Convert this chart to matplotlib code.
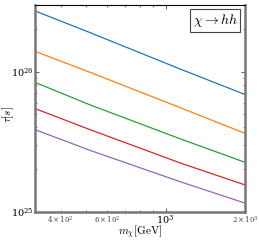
import numpy as np
import matplotlib
matplotlib.use("Agg")
import matplotlib.pyplot as plt

plt.rcParams['mathtext.fontset'] = 'cm'
plt.rcParams['font.family'] = ['DejaVu Serif']

# data
mass = [319, 517, 1141, 2000]  # GeV
tau_blue = [2.72e26, 1.90e26, 1.04e26, 6.86e25]
tau_orange = [1.40e26, 9.89e25, 5.51e25, 3.62e25]
tau_green = [8.40e25, 5.79e25, 3.30e25, 2.25e25]
tau_red = [5.46e25, 3.85e25, 2.22e25, 1.55e25]
tau_purple = [3.86e25, 2.74e25, 1.63e25, 1.15e25]
series = [tau_blue, tau_orange, tau_green, tau_red, tau_purple]
colors = ['#1f77b4', '#ff7f0e', '#2ca02c', '#d62728', '#9467bd']

fig = plt.figure(figsize=(2.59, 2.41), dpi=100)
ax = fig.add_axes([0.135, 0.122, 0.811, 0.858])
for s, c in zip(series, colors):
    ax.plot(mass, s, color=c, lw=0.9)
ax.set_xscale('log')
ax.set_yscale('log')
ax.set_xlim(320, 2000)
ax.set_ylim(1e25, 3e26)

for side in ['left', 'bottom', 'right']:
    ax.spines[side].set_color('#777777')
    ax.spines[side].set_linewidth(1.8)
ax.spines['top'].set_color('black')
ax.spines['top'].set_linewidth(0.8)

ax.tick_params(which='both', direction='in', top=True, right=True, color='#444444')
ax.tick_params(which='major', length=3, width=0.6, labelsize=7, pad=1)
ax.tick_params(which='minor', length=1.5, width=0.5, labelsize=5, pad=2, labelcolor='#444444')

ax.set_xlabel(r'$m_\chi[\mathrm{GeV}]$', fontsize=8)
ax.set_ylabel(r'$\tau[s]$', fontsize=8)
ax.xaxis.set_label_coords(0.5, -0.057)
ax.yaxis.set_label_coords(-0.09, 0.47)

ax.text(0.965, 0.965, r'$\chi \rightarrow hh$', transform=ax.transAxes, ha='right', va='top',
        fontsize=10, bbox=dict(boxstyle='square,pad=0.2', fc='white', ec='#444444', lw=0.8))

fig.savefig('out.png', dpi=100)
